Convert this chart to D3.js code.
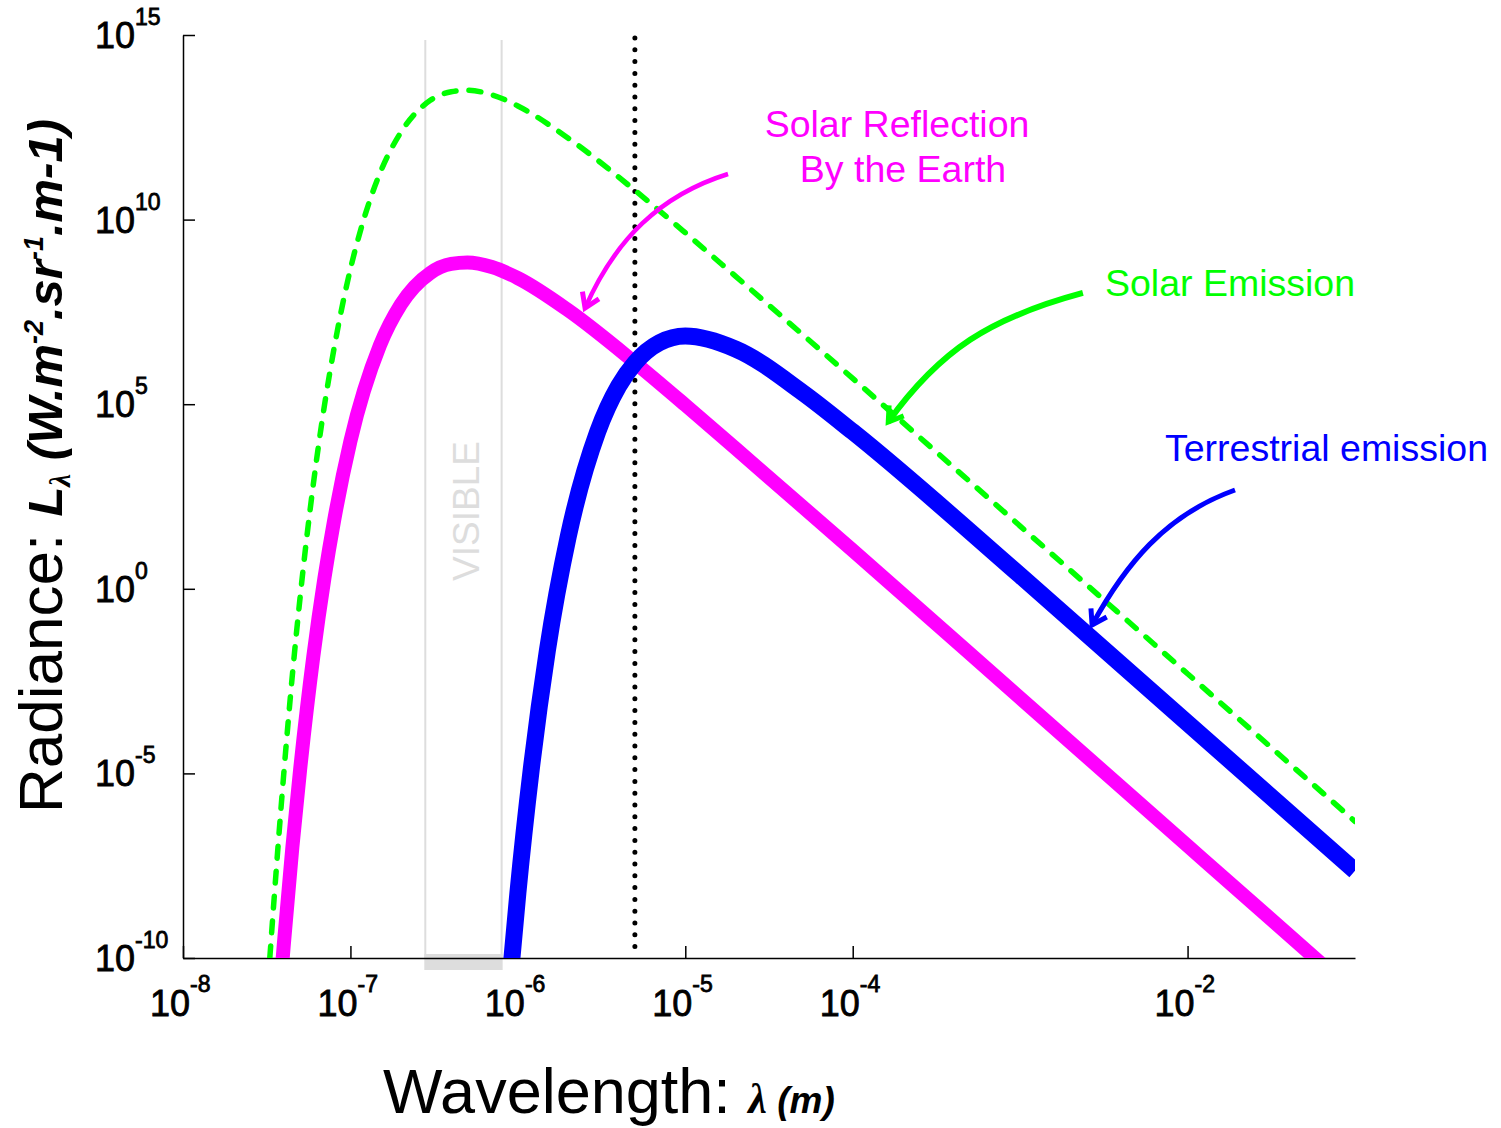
<!DOCTYPE html>
<html>
<head>
<meta charset="utf-8">
<script src="https://cdn.jsdelivr.net/npm/d3@7"></script>
<style>
  html, body { margin: 0; padding: 0; background: #fff; }
  svg { display: block; font-family: "Liberation Sans", Arial, sans-serif; }
</style>
</head>
<body>
<svg id="chart" width="1501" height="1128"></svg>
<script>
// values: [wavelength (m), radiance]
const solarEmission = [
  [3.3e-8, 1e-10], [3.5e-8, 4e-9], [4e-8, 1e-5], [4.5e-8, 4.6e-3], [5e-8, 0.56],
  [6e-8, 670], [7e-8, 9.4e4], [8e-8, 3.4e6], [1e-7, 4.6e8], [1.2e-7, 1e10],
  [1.5e-7, 1.8e11], [2e-7, 2.3e12], [3e-7, 1.7e13], [4e-7, 2.9e13], [5e-7, 3.2e13],
  [7e-7, 2.4e13], [1e-6, 1.2e13], [2e-6, 1.6e12], [5e-6, 6.2e10], [1e-5, 4.4e9],
  [2e-5, 2.9e8], [1e-4, 5e5], [1e-3, 5e1], [1e-2, 5e-3], [1e-1, 5e-7]
];

const solarReflection = [
  [3.8e-8, 1.3e-11], [4e-8, 2.3e-10], [4.5e-8, 1e-7], [5e-8, 1.2e-5], [6e-8, 1.45e-2],
  [7e-8, 2.0], [8e-8, 73], [1e-7, 1e4], [1.5e-7, 3.9e6], [2e-7, 5e7],
  [3e-7, 3.6e8], [4e-7, 6.3e8], [5e-7, 6.9e8], [7e-7, 5.2e8],
  [1e-6, 2.6e8], [2e-6, 3.5e7], [5e-6, 1.34e6], [1e-5, 9.5e4], [2e-5, 6.3e3],
  [1e-4, 11], [1e-3, 1.1e-3], [1e-2, 1.1e-7], [1e-1, 1.1e-11]
];

const terrestrialEmission = [
  [9e-7, 3e-11], [1e-6, 5.7e-9], [1.2e-6, 1.2e-5], [1.5e-6, 2.1e-2], [2e-6, 26],
  [3e-6, 1.8e4], [4e-6, 3.1e5], [5e-6, 1.3e6], [7e-6, 4.6e6], [1e-5, 7e6],
  [2e-5, 3.1e6], [5e-5, 2.1e5], [1e-4, 1.8e4], [1e-3, 2.3],
  [1e-2, 2.3e-4], [1e-1, 2.3e-8]
];

const xTicks = [1e-8, 1e-7, 1e-6, 1e-5, 1e-4, 1e-2];
const xTickExponents = ['-8', '-7', '-6', '-5', '-4', '-2'];
const yTicks = [1e15, 1e10, 1e5, 1e0, 1e-5, 1e-10];
const yTickExponents = ['15', '10', '5', '0', '-5', '-10'];

const visibleBand = [2.8e-7, 8e-7];
const dividerWavelength = 5e-6;

// curved annotation arrows in data space: tail, two control points, tip
const arrows = [
  { color: '#ff00ff', width: 4.5, points: [[1.8e-5, 1.72e11], [7.06e-6, 4.6e10], [3.8e-6, 2.8e9], [2.52e-6, 4e7]] },
  { color: '#00ff00', width: 6, points: [[2.37e-3, 1.03e8], [6.6e-4, 2.16e7], [3.32e-4, 2.94e6], [1.63e-4, 3.3e4]] },
  { color: '#0000ff', width: 5, points: [[1.92e-2, 474], [7.33e-3, 99.8], [4.23e-3, 4.4], [2.69e-3, 0.105]] }
];

const svg = d3.select('#chart');

const x = d3.scaleLog().domain([1e-8, 1e-1]).range([183, 1355]);
const y = d3.scaleLog().domain([1e-10, 1e15]).range([958, 35]);

const defs = svg.append('defs');
defs.append('clipPath')
  .attr('id', 'plot-clip')
  .append('rect')
  .attr('x', x.range()[0])
  .attr('y', 20)
  .attr('width', x.range()[1] - x.range()[0])
  .attr('height', y.range()[0] - 20);

// visible band
visibleBand.forEach((v) => {
  svg.append('line')
    .attr('x1', x(v)).attr('x2', x(v))
    .attr('y1', 40).attr('y2', y.range()[0])
    .attr('stroke', '#dddddd')
    .attr('stroke-width', 2);
});
svg.append('rect')
  .attr('x', x(visibleBand[0]) - 1)
  .attr('y', y.range()[0] - 4)
  .attr('width', x(visibleBand[1]) - x(visibleBand[0]) + 2)
  .attr('height', 16)
  .attr('fill', '#dddddd');
svg.append('text')
  .attr('transform', `translate(${(x(visibleBand[0]) + x(visibleBand[1])) / 2 + 16}, 511) rotate(-90)`)
  .attr('text-anchor', 'middle')
  .attr('font-size', 37)
  .attr('fill', '#dddddd')
  .text('VISIBLE');

// axes
const xAxis = d3.axisBottom(x).tickValues(xTicks).tickSizeInner(-12).tickSizeOuter(0).tickFormat('');
const yAxis = d3.axisLeft(y).tickValues(yTicks).tickSizeInner(-12).tickSizeOuter(0).tickFormat('');

const gx = svg.append('g').attr('transform', `translate(0, ${y.range()[0]})`).call(xAxis);
const gy = svg.append('g').attr('transform', `translate(${x.range()[0]}, 0)`).call(yAxis);
[gx, gy].forEach((g) => {
  g.select('.domain').attr('stroke', '#000').attr('stroke-width', 1.5);
  g.selectAll('.tick line').attr('stroke', '#000').attr('stroke-width', 1.5);
  g.selectAll('.tick text').remove();
});

const tickLabel = (sel) => sel
  .attr('font-size', 36)
  .attr('fill', '#000')
  .attr('stroke', '#000')
  .attr('stroke-width', 0.8);

xTicks.forEach((t, i) => {
  const label = tickLabel(svg.append('text'))
    .attr('x', x(t) - 33)
    .attr('y', y.range()[0] + 58);
  label.append('tspan').text('10');
  label.append('tspan').attr('font-size', 23).attr('dy', -24).text(xTickExponents[i]);
});

yTicks.forEach((t, i) => {
  const label = tickLabel(svg.append('text'))
    .attr('x', 95)
    .attr('y', y(t) + 13);
  label.append('tspan').text('10');
  label.append('tspan').attr('font-size', 23).attr('dy', -23).text(yTickExponents[i]);
});

// divider
svg.append('line')
  .attr('x1', x(dividerWavelength)).attr('x2', x(dividerWavelength))
  .attr('y1', 38).attr('y2', y.range()[0])
  .attr('stroke', '#000')
  .attr('stroke-width', 5)
  .attr('stroke-linecap', 'round')
  .attr('stroke-dasharray', '0 11.8');

// curves
const line = d3.line()
  .x((d) => x(d[0]))
  .y((d) => y(d[1]))
  .curve(d3.curveMonotoneX);

const curves = svg.append('g').attr('clip-path', 'url(#plot-clip)');

curves.append('path')
  .datum(solarReflection)
  .attr('d', line)
  .attr('fill', 'none')
  .attr('stroke', '#ff00ff')
  .attr('stroke-width', 14)
  .attr('stroke-linejoin', 'round');

curves.append('path')
  .datum(terrestrialEmission)
  .attr('d', line)
  .attr('fill', 'none')
  .attr('stroke', '#0000ff')
  .attr('stroke-width', 17)
  .attr('stroke-linejoin', 'round');

curves.append('path')
  .datum(solarEmission)
  .attr('d', line)
  .attr('fill', 'none')
  .attr('stroke', '#00ff00')
  .attr('stroke-width', 5.5)
  .attr('stroke-linecap', 'round')
  .attr('stroke-dasharray', '12 13');

// annotation arrows (cubic bezier from tail to tip)
arrows.forEach((a, i) => {
  defs.append('marker')
    .attr('id', `head-${i}`)
    .attr('markerUnits', 'userSpaceOnUse')
    .attr('viewBox', '-22 -14 28 28')
    .attr('markerWidth', 28)
    .attr('markerHeight', 28)
    .attr('refX', 0)
    .attr('refY', 0)
    .attr('orient', 'auto')
    .append('path')
    .attr('d', 'M-14,-9L0,0L-14,9')
    .attr('fill', 'none')
    .attr('stroke', a.color)
    .attr('stroke-width', 5);

  const [p0, c1, c2, p1] = a.points.map((d) => [x(d[0]), y(d[1])]);
  const path = d3.path();
  path.moveTo(p0[0], p0[1]);
  path.bezierCurveTo(c1[0], c1[1], c2[0], c2[1], p1[0], p1[1]);

  svg.append('path')
    .attr('d', path.toString())
    .attr('fill', 'none')
    .attr('stroke', a.color)
    .attr('stroke-width', a.width)
    .attr('marker-end', `url(#head-${i})`);
});

// annotation labels
const notes = [
  { text: 'Solar Reflection', x: 897, y: 137, anchor: 'middle', color: '#ff00ff' },
  { text: 'By the Earth', x: 903, y: 182, anchor: 'middle', color: '#ff00ff' },
  { text: 'Solar Emission', x: 1105, y: 296, anchor: 'start', color: '#00ff00' },
  { text: 'Terrestrial emission', x: 1165, y: 461, anchor: 'start', color: '#0000ff' }
];
notes.forEach((n) => {
  svg.append('text')
    .attr('x', n.x)
    .attr('y', n.y)
    .attr('text-anchor', n.anchor)
    .attr('font-size', 37.5)
    .attr('fill', n.color)
    .text(n.text);
});

// axis titles
const xTitle = svg.append('text')
  .attr('x', 383)
  .attr('y', 1113)
  .attr('fill', '#000');
xTitle.append('tspan').attr('font-size', 63).text('Wavelength: ');
xTitle.append('tspan')
  .attr('font-family', '"Liberation Serif", serif')
  .attr('font-style', 'italic')
  .attr('font-weight', 'bold')
  .attr('font-size', 42)
  .text('λ');
xTitle.append('tspan')
  .attr('font-style', 'italic')
  .attr('font-weight', 'bold')
  .attr('font-size', 37)
  .text(' (m)');

const yTitle = svg.append('text')
  .attr('transform', 'translate(62, 813) rotate(-90)')
  .attr('fill', '#000');
yTitle.append('tspan').attr('font-size', 62).text('Radiance: ');
const bi = (sel) => sel.attr('font-style', 'italic').attr('font-weight', 'bold');
bi(yTitle.append('tspan')).attr('font-size', 49).text('L');
bi(yTitle.append('tspan'))
  .attr('font-family', '"Liberation Serif", serif')
  .attr('font-size', 29).attr('dy', 8).text('λ');
bi(yTitle.append('tspan')).attr('font-size', 49).attr('dy', -8).text(' (W.m');
bi(yTitle.append('tspan')).attr('font-size', 27).attr('dy', -19).text('-2');
bi(yTitle.append('tspan')).attr('font-size', 49).attr('dy', 19).text('.sr');
bi(yTitle.append('tspan')).attr('font-size', 27).attr('dy', -19).text('-1');
bi(yTitle.append('tspan')).attr('font-size', 49).attr('dy', 19).text('.m-1)');
</script>
</body>
</html>
